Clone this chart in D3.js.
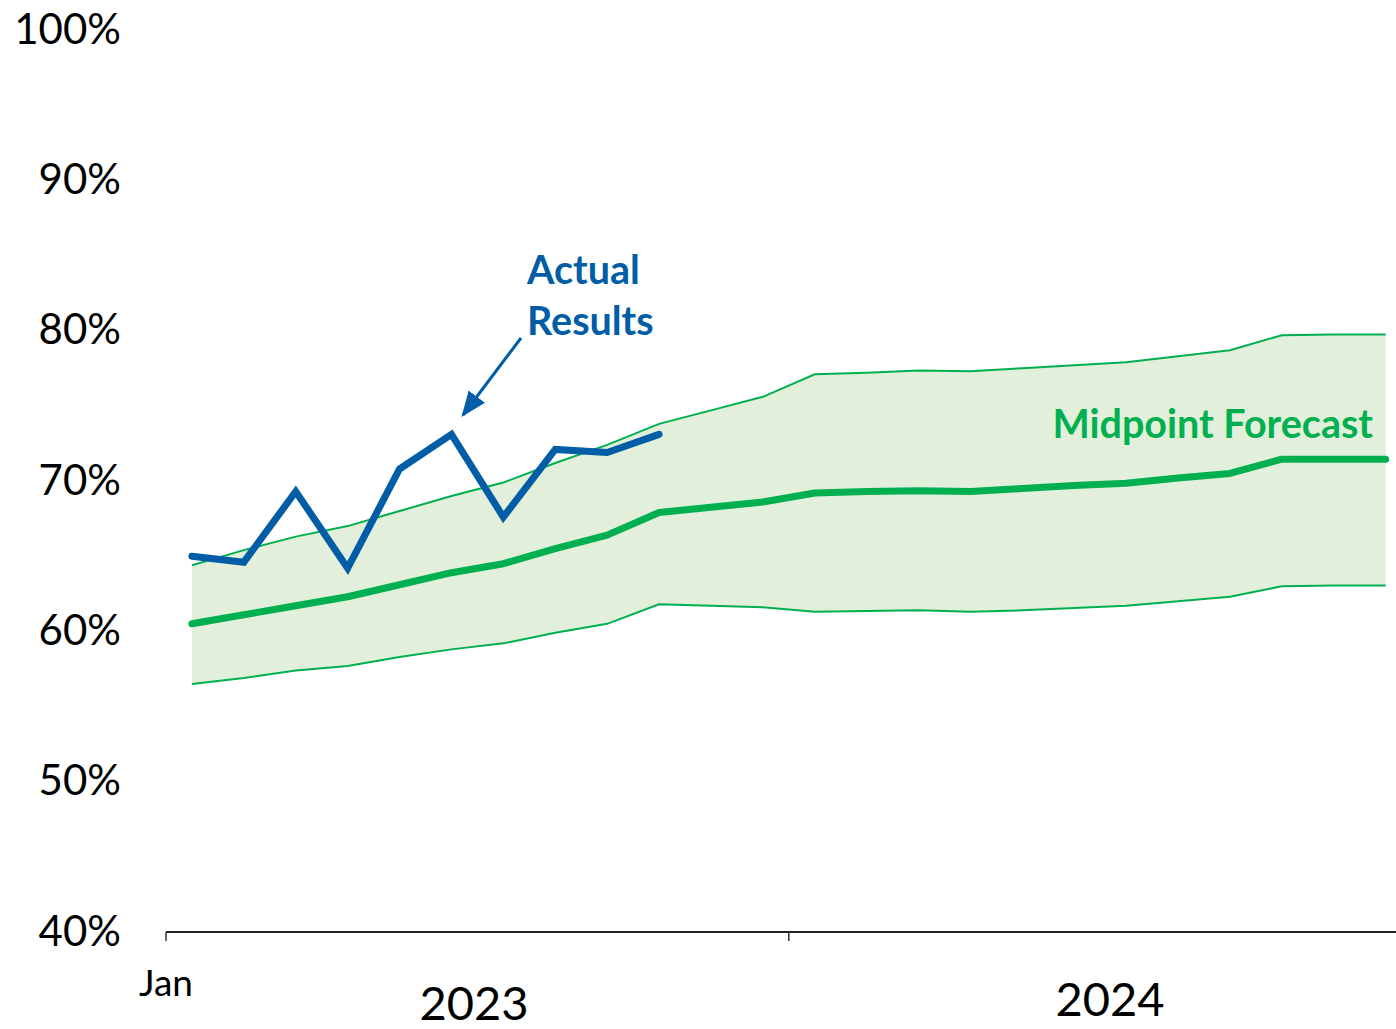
<!DOCTYPE html>
<html>
<head>
<meta charset="utf-8">
<script src="https://cdn.jsdelivr.net/npm/d3@7/dist/d3.min.js"></script>
<style>
  html, body { margin: 0; padding: 0; background: #fff; }
  svg { display: block; font-family: Lato, "Open Sans", sans-serif; }
</style>
</head>
<body>
<svg id="chart" width="1396" height="1029"></svg>
<script>
// Months Jan 2023 .. Dec 2024
const months = ["Jan 2023","Feb 2023","Mar 2023","Apr 2023","May 2023","Jun 2023",
  "Jul 2023","Aug 2023","Sep 2023","Oct 2023","Nov 2023","Dec 2023",
  "Jan 2024","Feb 2024","Mar 2024","Apr 2024","May 2024","Jun 2024",
  "Jul 2024","Aug 2024","Sep 2024","Oct 2024","Nov 2024","Dec 2024"];

// Forecast range (percent)
const upperForecast = [64.4, 65.4, 66.3, 67.0, 68.0, 69.0, 69.9, 71.2, 72.4, 73.8, 74.7, 75.6,
  77.1, 77.2, 77.35, 77.3, 77.5, 77.7, 77.9, 78.3, 78.7, 79.7, 79.75, 79.75];
const midpointForecast = [60.5, 61.1, 61.7, 62.3, 63.1, 63.9, 64.5, 65.5, 66.4, 67.9, 68.25, 68.6,
  69.2, 69.3, 69.35, 69.3, 69.5, 69.7, 69.85, 70.2, 70.5, 71.45, 71.45, 71.45];
const lowerForecast = [56.5, 56.9, 57.4, 57.7, 58.3, 58.8, 59.2, 59.9, 60.5, 61.8, 61.7, 61.6,
  61.3, 61.35, 61.4, 61.3, 61.4, 61.55, 61.7, 62.0, 62.3, 63.0, 63.05, 63.05];

// Actual results so far (percent)
const actualResults = [65.0, 64.6, 69.3, 64.2, 70.8, 73.1, 67.6, 72.1, 71.9, 73.1];

const yTicks = [40, 50, 60, 70, 80, 90, 100];
const yearLabels = ["2023", "2024"];

const svg = d3.select("#chart");

const left = 166, monthW = 51.9;
const x = d3.scaleBand().domain(months).range([left, left + monthW * months.length]).padding(0);
const cx = m => x(m) + x.bandwidth() / 2;
const y = d3.scaleLinear().domain([40, 100]).range([932, 30]);

const green = "#00B050", blue = "#005DA6";

// forecast band
const band = months.map((m, i) => ({ m, lo: lowerForecast[i], hi: upperForecast[i], mid: midpointForecast[i] }));
svg.append("path")
  .datum(band)
  .attr("fill", "#E2EFDA")
  .attr("d", d3.area().x(d => cx(d.m)).y0(d => y(d.lo)).y1(d => y(d.hi)));

const edge = key => d3.line().x(d => cx(d.m)).y(d => y(d[key]));
["hi", "lo"].forEach(k => {
  svg.append("path").datum(band)
    .attr("fill", "none").attr("stroke", green).attr("stroke-width", 2)
    .attr("d", edge(k));
});

svg.append("path").datum(band)
  .attr("fill", "none").attr("stroke", green).attr("stroke-width", 7)
  .attr("stroke-linecap", "round").attr("stroke-linejoin", "round")
  .attr("d", edge("mid"));

// actual results
const actual = actualResults.map((v, i) => ({ m: months[i], v }));
svg.append("path").datum(actual)
  .attr("fill", "none").attr("stroke", blue).attr("stroke-width", 7)
  .attr("stroke-linecap", "round").attr("stroke-linejoin", "miter")
  .attr("d", d3.line().x(d => cx(d.m)).y(d => y(d.v)));

// y axis labels
svg.append("g").selectAll("text").data(yTicks).join("text")
  .attr("x", 121).attr("y", d => y(d) + 3)
  .attr("text-anchor", "end").attr("dominant-baseline", "middle")
  .attr("font-size", 42).attr("fill", "#000")
  .text(d => d + "%");

// x axis with year-boundary ticks
const xAxis = d3.axisBottom(x)
  .tickValues([months[0], months[12]])
  .tickSize(9)
  .tickFormat("");
const gx = svg.append("g").attr("transform", "translate(0,932)").call(xAxis);
gx.select(".domain").attr("d", `M${left},0H${left + monthW * 24}`).attr("stroke", "#222").attr("stroke-width", 2);
gx.selectAll(".tick").attr("transform", d => `translate(${x(d)},0)`);
gx.selectAll(".tick line").attr("stroke", "#333").attr("stroke-width", 1.5);

svg.append("text").attr("x", x(months[0])).attr("y", 996)
  .attr("text-anchor", "middle").attr("font-size", 37).text("Jan");

svg.append("g").selectAll("text").data(yearLabels).join("text")
  .attr("x", (d, i) => i === 0 ? 474 : 1110)
  .attr("y", (d, i) => i === 0 ? 1020 : 1016)
  .attr("text-anchor", "middle").attr("font-size", 47)
  .text(d => d);

// annotations
const ann = svg.append("g").attr("font-weight", "bold").attr("font-size", 39.5);
ann.append("text").attr("x", 527).attr("y", 284).attr("fill", blue).text("Actual");
ann.append("text").attr("x", 527).attr("y", 335).attr("fill", blue).text("Results");
ann.append("text").attr("x", 1373).attr("y", 438).attr("text-anchor", "end").attr("fill", green).text("Midpoint Forecast");

svg.append("defs").append("marker")
  .attr("id", "head").attr("viewBox", "0 0 10 8").attr("refX", 9).attr("refY", 4)
  .attr("markerWidth", 8.5).attr("markerHeight", 7).attr("markerUnits", "strokeWidth")
  .attr("orient", "auto")
  .append("path").attr("d", "M0,0L10,4L0,8Z").attr("fill", blue);
svg.append("line")
  .attr("x1", 521).attr("y1", 338).attr("x2", 463).attr("y2", 415)
  .attr("stroke", blue).attr("stroke-width", 3).attr("marker-end", "url(#head)");
</script>
</body>
</html>
